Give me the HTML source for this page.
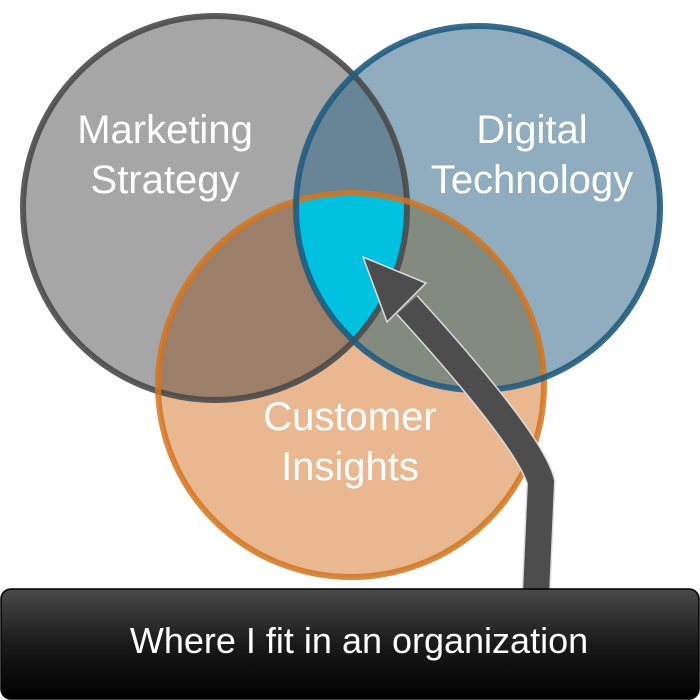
<!DOCTYPE html>
<html><head><style>
html,body{margin:0;padding:0;background:#fff;}
svg{display:block;}
</style></head><body>
<svg width="700" height="700" viewBox="0 0 700 700" xmlns="http://www.w3.org/2000/svg">
<defs>
<clipPath id="cg"><circle cx="215" cy="208" r="192"/></clipPath>
<clipPath id="cb"><ellipse cx="478" cy="208" rx="182" ry="182"/></clipPath>
<clipPath id="co"><ellipse cx="351" cy="385" rx="193" ry="192"/></clipPath>
<linearGradient id="bar" x1="0" y1="0" x2="0" y2="1">
<stop offset="0" stop-color="#4a4a4a"/><stop offset="0.5" stop-color="#1a1a1a"/><stop offset="1" stop-color="#000"/>
</linearGradient>
</defs>
<circle cx="215" cy="208" r="192" fill="#a6a6a6"/>
<ellipse cx="478" cy="208" rx="182" ry="182" fill="#8fadbf"/>
<ellipse cx="351" cy="385" rx="193" ry="192" fill="#e9b891"/>
<g clip-path="url(#cg)"><ellipse cx="478" cy="208" rx="182" ry="182" fill="#678597"/><ellipse cx="351" cy="385" rx="193" ry="192" fill="#9b7f69"/></g>
<g clip-path="url(#cb)"><ellipse cx="351" cy="385" rx="193" ry="192" fill="#838a80"/></g>
<g clip-path="url(#cg)"><g clip-path="url(#cb)"><ellipse cx="351" cy="385" rx="193" ry="192" fill="#00c1df"/></g></g>
<circle cx="215" cy="208" r="192" fill="none" stroke="#4a4a4a" stroke-width="6" opacity="0.9"/>
<ellipse cx="351" cy="385" rx="193" ry="192" fill="none" stroke="#d4741e" stroke-width="6" opacity="0.85"/>
<ellipse cx="478" cy="208" rx="182" ry="182" fill="none" stroke="#215c80" stroke-width="6" opacity="0.9"/>
<g font-family="Liberation Sans, sans-serif" font-size="40" fill="#fff" text-anchor="middle">
<text x="165" y="143">Marketing</text><text x="165" y="193">Strategy</text>
<text x="532" y="143">Digital</text><text x="532" y="193">Technology</text>
<text x="350" y="430">Customer</text><text x="350" y="480">Insights</text>
</g>
<path d="M536,594 L541,482 Q530,440 407,305" fill="none" stroke="#ddd" stroke-width="29"/>
<path d="M536,594 L541,482 Q530,440 407,305" fill="none" stroke="#4d4d4d" stroke-width="26"/>
<polygon points="363,257 426,283 387,322" fill="#4d4d4d" stroke="#ddd" stroke-width="1.5"/>
<rect x="1" y="589" width="698" height="110" rx="10" fill="url(#bar)" stroke="#000" stroke-width="1.5"/>
<text x="359" y="653" font-family="Liberation Sans, sans-serif" font-size="36" fill="#fff" text-anchor="middle">Where I fit in an organization</text>
</svg>
</body></html>
